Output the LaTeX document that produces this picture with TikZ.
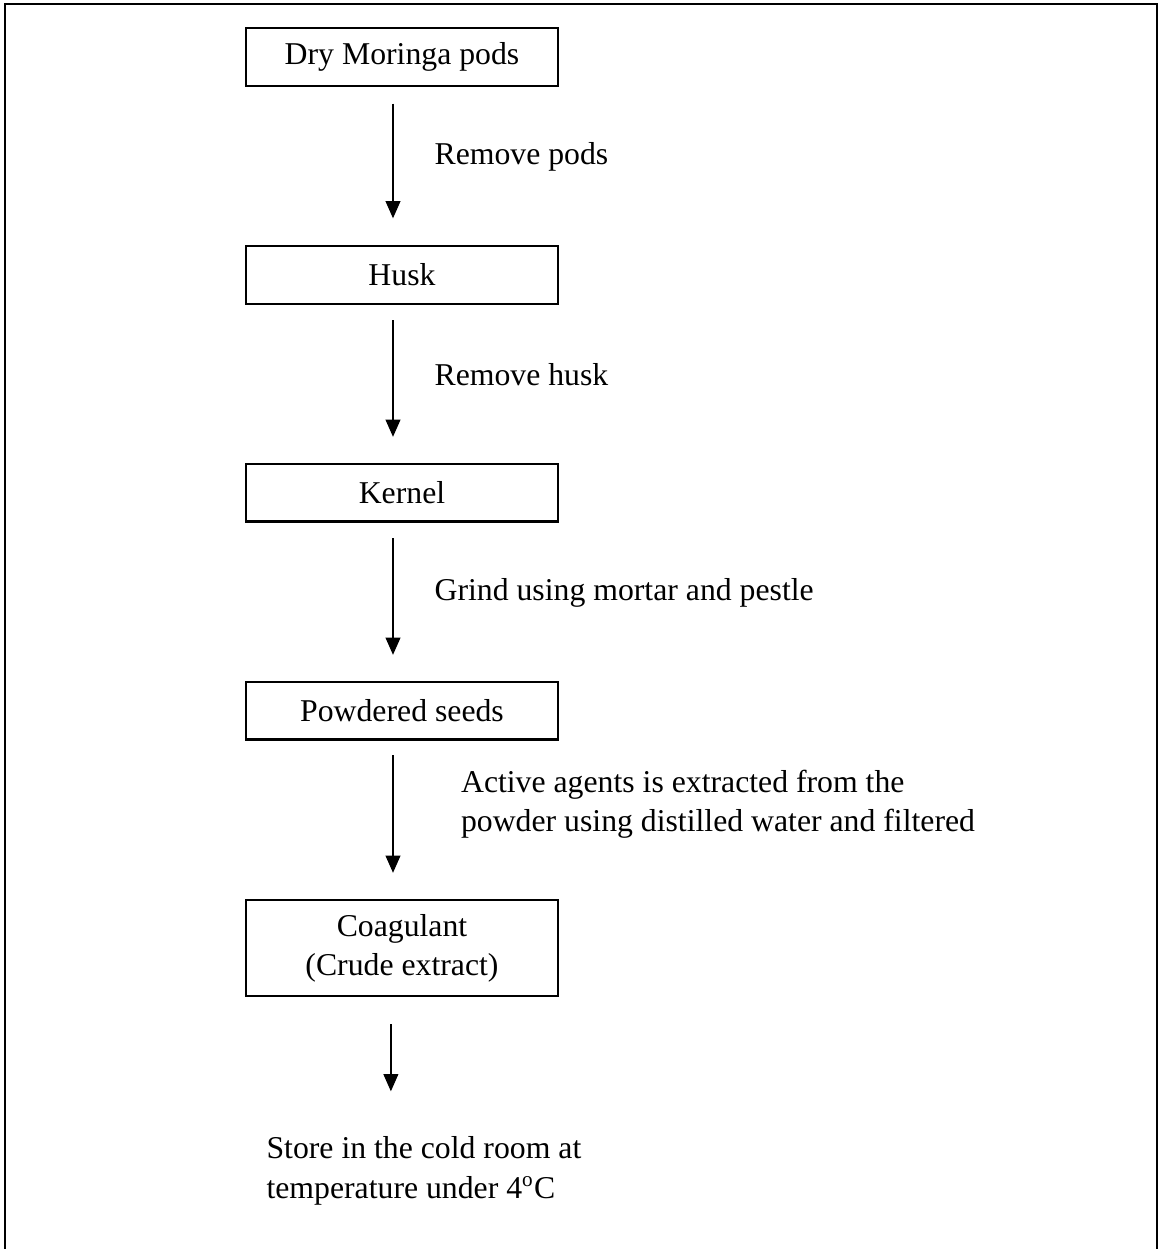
\documentclass[tikz,border=0pt]{standalone}
\usepackage{fontspec}
\setmainfont{Liberation Serif}
\usepackage{tikz}
\usetikzlibrary{positioning, arrows.meta}

\begin{document}
\begin{tikzpicture}[x=0.378pt, y=-0.378pt, node distance=60pt,
    every node/.style={font=\fontsize{12}{14.8}\selectfont},
    stepbox/.style={draw, rectangle, line width=0.8pt, minimum width=118pt, minimum height=21.6pt, align=center},
    flow/.style={-{Triangle[length=6.5pt, width=5.5pt]}, line width=0.8pt}]
    \useasboundingbox (0,0) rectangle (1161,1249);

    % Frame (open at the bottom)
    \draw[line width=1pt] (5,1249) -- (5,4) -- (1157,4) -- (1157,1249);

    % Steps
    \node[stepbox] (pods) at (402,57) {Dry Moringa pods};
    \node[stepbox, below=of pods] (husk) {Husk};
    \node[stepbox, below=of husk] (kernel) {Kernel};
    \node[stepbox, below=of kernel] (powder) {Powdered seeds};
    \node[stepbox, below=of powder, minimum height=36.3pt] (coag) {Coagulant\\(Crude extract)};

    % Final note
    \node[anchor=north west, align=left, inner sep=0pt] (store) at ([xshift=8pt, yshift=-52.5pt]coag.south west) {Store in the cold room at\\temperature under 4\textsuperscript{o}C};

    % Arrows
    \draw[flow] ([xshift=-3.4pt, yshift=-6.4pt]pods.south) -- node[right, xshift=12pt, yshift=1.5pt] {Remove pods} ([xshift=-3.4pt, yshift=10.2pt]husk.north);
    \draw[flow] ([xshift=-3.4pt, yshift=-6pt]husk.south) -- node[right, xshift=12pt, yshift=1.5pt] {Remove husk} ([xshift=-3.4pt, yshift=10pt]kernel.north);
    \draw[flow] ([xshift=-3.4pt, yshift=-6pt]kernel.south) -- node[right, xshift=12pt, yshift=1.5pt] {Grind using mortar and pestle} ([xshift=-3.4pt, yshift=10pt]powder.north);
    \draw[flow] ([xshift=-3.4pt, yshift=-5.5pt]powder.south) -- node[right, align=left, xshift=22pt, yshift=3.8pt] {Active agents is extracted from the\\powder using distilled water and filtered} ([xshift=-3.4pt, yshift=10pt]coag.north);
    \coordinate[xshift=-4.2pt, yshift=-10.2pt] (coagout) at (coag.south);
    \coordinate[yshift=17pt] (storein) at (store.north);
    \draw[flow] (coagout) -- (coagout |- storein);
\end{tikzpicture}
\end{document}
